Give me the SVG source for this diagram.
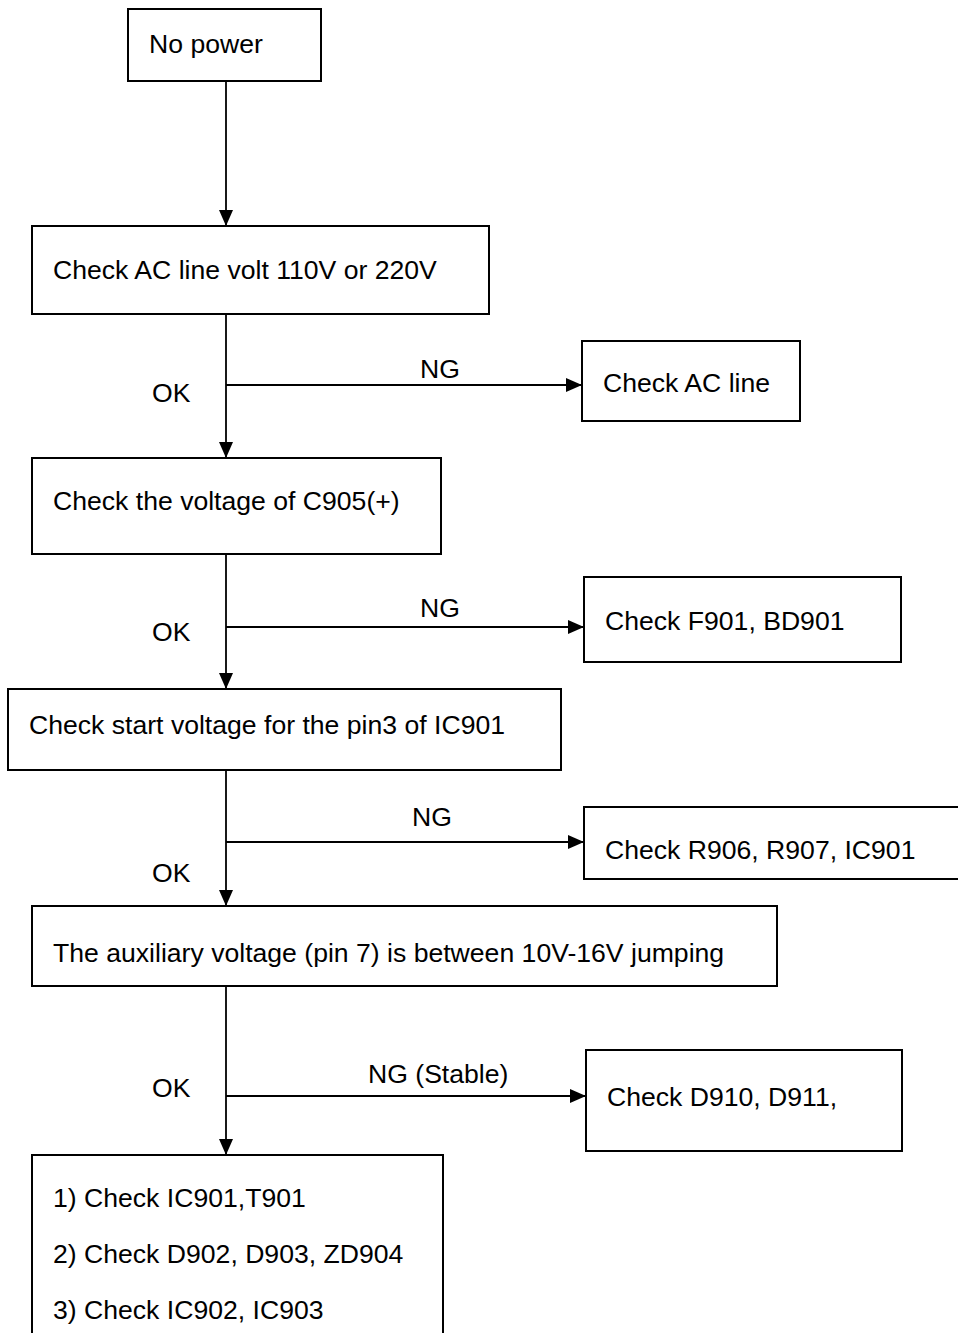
<svg xmlns="http://www.w3.org/2000/svg" width="958" height="1333" viewBox="0 0 958 1333">
<style>
.box{fill:#fff;stroke:#000;stroke-width:2}
.ln{fill:none;stroke:#000;stroke-width:1.8}
text{font-family:"Liberation Sans",Arial,sans-serif;font-size:26.6px;fill:#000}
</style>
<defs>
<marker id="ah" viewBox="0 0 16 14" refX="16" refY="7" markerWidth="16" markerHeight="14" markerUnits="userSpaceOnUse" orient="auto">
<path d="M0,0 L16,7 L0,14 Z" fill="#000"/>
</marker>
</defs>
<rect width="958" height="1333" fill="#fff"/>
<g id="connectors">
<line class="ln" x1="226" y1="81" x2="226" y2="226" marker-end="url(#ah)"/>
<line class="ln" x1="226" y1="314" x2="226" y2="458" marker-end="url(#ah)"/>
<line class="ln" x1="226" y1="385" x2="582" y2="385" marker-end="url(#ah)"/>
<line class="ln" x1="226" y1="554" x2="226" y2="689" marker-end="url(#ah)"/>
<line class="ln" x1="226" y1="627" x2="584" y2="627" marker-end="url(#ah)"/>
<line class="ln" x1="226" y1="770" x2="226" y2="906" marker-end="url(#ah)"/>
<line class="ln" x1="226" y1="842" x2="584" y2="842" marker-end="url(#ah)"/>
<line class="ln" x1="226" y1="986" x2="226" y2="1155" marker-end="url(#ah)"/>
<line class="ln" x1="226" y1="1096" x2="586" y2="1096" marker-end="url(#ah)"/>
<text x="152" y="402">OK</text>
<text x="420" y="378">NG</text>
<text x="152" y="641">OK</text>
<text x="420" y="617">NG</text>
<text x="152" y="882">OK</text>
<text x="412" y="826">NG</text>
<text x="152" y="1097">OK</text>
<text x="368" y="1083">NG (Stable)</text>
</g>
<g id="n-nopower">
<rect class="box" x="128" y="9" width="193" height="72"/>
<text x="149" y="53">No power</text>
</g>
<g id="n-acvolt">
<rect class="box" x="32" y="226" width="457" height="88"/>
<text x="53" y="279">Check AC line volt 110V or 220V</text>
</g>
<g id="n-acline">
<rect class="box" x="582" y="341" width="218" height="80"/>
<text x="603" y="392">Check AC line</text>
</g>
<g id="n-c905">
<rect class="box" x="32" y="458" width="409" height="96"/>
<text x="53" y="510">Check the voltage of C905(+)</text>
</g>
<g id="n-f901">
<rect class="box" x="584" y="577" width="317" height="85"/>
<text x="605" y="630">Check F901, BD901</text>
</g>
<g id="n-start">
<rect class="box" x="8" y="689" width="553" height="81"/>
<text x="29" y="734">Check start voltage for the pin3 of IC901</text>
</g>
<g id="n-r906">
<rect class="box" x="584" y="807" width="380" height="72"/>
<text x="605" y="859">Check R906, R907, IC901</text>
</g>
<g id="n-aux">
<rect class="box" x="32" y="906" width="745" height="80"/>
<text x="53" y="962">The auxiliary voltage (pin 7) is between 10V-16V jumping</text>
</g>
<g id="n-d910">
<rect class="box" x="586" y="1050" width="316" height="101"/>
<text x="607" y="1106">Check D910, D911,</text>
</g>
<g id="n-final">
<rect class="box" x="32" y="1155" width="411" height="190"/>
<text x="53" y="1207">1) Check IC901,T901</text>
<text x="53" y="1263">2) Check D902, D903, ZD904</text>
<text x="53" y="1319">3) Check IC902, IC903</text>
</g>
</svg>
